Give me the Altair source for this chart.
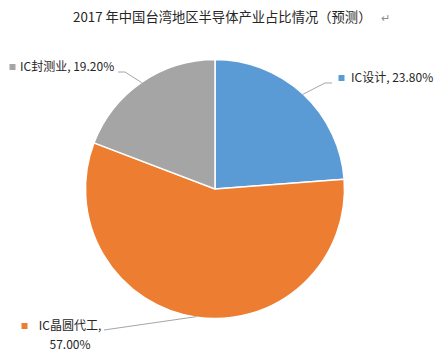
import altair as alt
import numpy as np
import pandas as pd

# ---- data ----
categories = ["IC设计", "IC晶圆代工", "IC封测业"]
shares = [23.80, 57.00, 19.20]
share_labels = ["23.80%", "57.00%", "19.20%"]
colors = ["#5B9BD5", "#ED7D31", "#A5A5A5"]
title_text = "2017 年中国台湾地区半导体产业占比情况（预测）"

# ---- layout: positions given in page pixels, converted to chart pixels ----
OX, OY = 8, 18          # chart origin on the page (margin + top padding)
PAD_TOP = OY - 8
W, H = 437 - OX, 352 - OY
FONT = "Noto Sans CJK SC"
TXT = "#262626"


def P(x, y):
    return (x - OX, y - OY)


CX, CY = P(215, 189)
R = 129.5

label_layout = {
    "IC设计": dict(m=P(341.5, 78), t=P(351, 78), align="left",
                 elbow=[P(325, 83), P(332, 83)]),
    "IC晶圆代工": dict(m=P(24.5, 326), t=P(70, 326), align="center",
                  elbow=[P(104, 330)]),
    "IC封测业": dict(m=P(12.5, 67), t=P(20, 67), align="left",
                  elbow=[P(125, 72), P(118, 72)]),
}

df = pd.DataFrame({"cat": categories, "share": shares, "idx": range(len(categories))})

color_scale = alt.Scale(domain=categories, range=colors)
xs = alt.Scale(domain=[0, W], range=[0, W], nice=False, zero=False)
ys = alt.Scale(domain=[0, H], range=[0, H], nice=False, zero=False)

pie = alt.Chart(df).mark_arc(outerRadius=R, stroke="white", strokeWidth=1.5).encode(
    theta=alt.Theta("share:Q", stack=True),
    color=alt.Color("cat:N", scale=color_scale, legend=None),
    order=alt.Order("idx:Q"),
    x=alt.value(CX), y=alt.value(CY),
)

# leader lines start at each slice's mid-angle on the arc edge
total = sum(shares)
cum = np.cumsum([0] + shares[:-1])
rows = []
for i, (c, s) in enumerate(zip(categories, shares)):
    mid = (cum[i] + s / 2) / total * 2 * np.pi
    ex, ey = CX + (R - 0.5) * np.sin(mid), CY - (R - 0.5) * np.cos(mid)
    pts = [(ex, ey)] + label_layout[c]["elbow"]
    for k, (px, py) in enumerate(pts):
        rows.append({"cat": c, "k": k, "px": px, "py": py})
lines_df = pd.DataFrame(rows)

leaders = alt.Chart(lines_df).mark_line(color="#A6A6A6", strokeWidth=1).encode(
    x=alt.X("px:Q", scale=xs, axis=None),
    y=alt.Y("py:Q", scale=ys, axis=None),
    detail="cat:N",
    order="k:Q",
)

lab_rows = []
for c, s in zip(categories, share_labels):
    L = label_layout[c]
    txt = [f"{c},", s] if L["align"] == "center" else [f"{c}, {s}"]
    lab_rows.append({"cat": c, "mx": L["m"][0], "my": L["m"][1],
                     "tx": L["t"][0], "ty": L["t"][1], "txt": txt, "align": L["align"]})
lab_df = pd.DataFrame(lab_rows)

markers = alt.Chart(lab_df).mark_square(size=36, opacity=1).encode(
    x=alt.X("mx:Q", scale=xs, axis=None),
    y=alt.Y("my:Q", scale=ys, axis=None),
    color=alt.Color("cat:N", scale=color_scale, legend=None),
)

text_left = alt.Chart(lab_df[lab_df["align"] == "left"]).mark_text(
    align="left", baseline="middle", font=FONT, fontSize=12, color=TXT
).encode(
    x=alt.X("tx:Q", scale=xs, axis=None),
    y=alt.Y("ty:Q", scale=ys, axis=None),
    text="txt",
)
text_center = alt.Chart(lab_df[lab_df["align"] == "center"]).mark_text(
    align="center", baseline="middle", font=FONT, fontSize=12, color=TXT, lineHeight=19
).encode(
    x=alt.X("tx:Q", scale=xs, axis=None),
    y=alt.Y("ty:Q", scale=ys, axis=None),
    text="txt",
)

# the page margin keeps the title from sitting as high as in the reference
tx0, ty0 = P(73, 18)
ax0, ay0 = P(381, 19)
title = alt.Chart(pd.DataFrame({"t": [title_text]})).mark_text(
    align="left", baseline="middle", font=FONT, fontSize=13.3, color=TXT
).encode(x=alt.value(tx0), y=alt.value(ty0), text="t:N")
arrow = alt.Chart(pd.DataFrame({"t": ["↵"]})).mark_text(
    align="left", baseline="middle", font=FONT, fontSize=11, color="#8C8C8C"
).encode(x=alt.value(ax0), y=alt.value(ay0), text="t:N")

chart = alt.layer(pie, leaders, markers, text_left, text_center, title, arrow).properties(
    width=W, height=H, autosize=alt.AutoSizeParams(type="none"),
    padding={"top": PAD_TOP, "left": 0, "right": 0, "bottom": 0},
).configure_view(stroke=None)

chart.save("out.html", embed_options={"renderer": "svg", "actions": False})
